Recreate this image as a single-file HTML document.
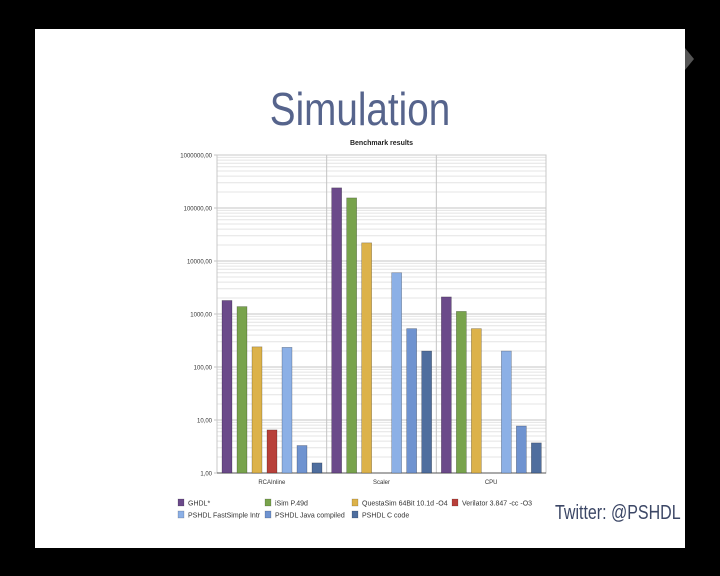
<!DOCTYPE html>
<html><head><meta charset="utf-8">
<style>
html,body{margin:0;padding:0;background:#000;}
body{width:720px;height:576px;position:relative;overflow:hidden;font-family:"Liberation Sans",sans-serif;}
#slide{position:absolute;left:35px;top:29px;width:650px;height:519px;background:#fff;}
#title{position:absolute;left:0;width:720px;top:82px;text-align:center;font-size:46px;color:#56648c;transform:scaleX(0.84);transform-origin:360px 0;}
#twitter{position:absolute;left:555px;top:502px;font-size:20px;color:#3c4766;white-space:nowrap;transform:scaleX(0.8);transform-origin:0 0;}
#nav{position:absolute;left:685px;top:48px;width:0;height:0;border-top:11px solid transparent;border-bottom:11px solid transparent;border-left:9px solid #555;}
svg{position:absolute;left:0;top:0;}
</style></head><body>
<div id="slide"></div>
<div id="nav"></div>
<div id="title">Simulation</div>
<div id="twitter">Twitter: @PSHDL</div>
<svg id="chart" width="720" height="576"></svg>
<script>
const categories = ["RCAInline","Scaler","CPU"];
const seriesNames = ["GHDL*","iSim P.49d","QuestaSim 64Bit 10.1d -O4","Verilator 3.847 -cc -O3","PSHDL FastSimple Intr","PSHDL Java compiled","PSHDL C code"];
const seriesColors = ["#6b4a8a","#78a34c","#dcb24a","#b8403a","#8cb0e6","#6f93d0","#4f6e9e"];
const ghdl = [1800, 240000, 2100];
const isim = [1380, 155000, 1120];
const questa = [240, 22000, 530];
const verilator = [6.5, 0, 0];
const fastSimple = [235, 6000, 200];
const javaCompiled = [3.3, 530, 7.7];
const cCode = [1.55, 200, 3.7];
const seriesValues = [ghdl, isim, questa, verilator, fastSimple, javaCompiled, cCode];
const tickValues = [1,10,100,1000,10000,100000,1000000];
const tickLabels = ["1,00","10,00","100,00","1000,00","10000,00","100000,00","1000000,00"];

const NS="http://www.w3.org/2000/svg";
const svg=document.getElementById('chart');
const X0=217,X1=546,Y0=473,Y1=155;
const yScale=v=>Y0-(Math.log10(v)/6)*(Y0-Y1);
const groupW=(X1-X0)/categories.length;
const xBand=(ci,si)=>X0+ci*groupW+5+si*15;
function mk(tag,attrs,txt){const e=document.createElementNS(NS,tag);for(const k in attrs)e.setAttribute(k,attrs[k]);if(txt!==undefined)e.textContent=txt;svg.appendChild(e);return e;}

for(let d=0;d<6;d++){for(let m=2;m<10;m++){const y=yScale(Math.pow(10,d)*m);
const l=mk('line',{x1:X0,x2:X1,y1:y,y2:y,stroke:'#e4e4e4','stroke-width':1});

}}
tickValues.forEach((v,i)=>{const y=yScale(v);
const l=mk('line',{x1:X0-3,x2:X1,y1:y,y2:y,stroke:'#c4c4c4','stroke-width':1});


const t=mk('text',{x:X0-5,y:y+2.5,'text-anchor':'end','font-size':6,fill:'#333'},tickLabels[i]);

});
for(let c=1;c<categories.length;c++){const x=X0+c*groupW;
const l=mk('line',{x1:x,x2:x,y1:Y1,y2:Y0,stroke:'#c4c4c4','stroke-width':1});

}
const frame=mk('rect',{x:X0,y:Y1,width:X1-X0,height:Y0-Y1,fill:'none',stroke:'#c8c8c8','stroke-width':1});


const xaxis=mk('line',{x1:X0,x2:X1,y1:Y0,y2:Y0,stroke:'#555','stroke-width':1});



seriesValues.forEach((vals,si)=>{vals.forEach((v,ci)=>{if(!(v>1))return;
const y=yScale(v);
const r=mk('rect',{x:xBand(ci,si),y:y,width:10,height:Y0-y,fill:seriesColors[si],stroke:'rgba(0,0,0,0.35)','stroke-width':0.6});

});});

categories.forEach((c,ci)=>{const t=mk('text',{x:X0+ci*groupW+groupW/2,y:484,'text-anchor':'middle','font-size':6,fill:'#333'},c);

});
const ct=mk('text',{x:(X0+X1)/2,y:145,'text-anchor':'middle','font-size':7,'font-weight':'bold',fill:'#222'},'Benchmark results');



const legX=[178,265,352,452];
seriesNames.forEach((n,i)=>{const x=legX[i%4],y=i<4?499:511;
const s=mk('rect',{x:x,y:y,width:6,height:7,fill:seriesColors[i],stroke:'rgba(0,0,0,0.3)','stroke-width':0.5});


const t=mk('text',{x:x+10,y:y+6.5,'font-size':7,fill:'#333'},n);

});
</script>
</body></html>
